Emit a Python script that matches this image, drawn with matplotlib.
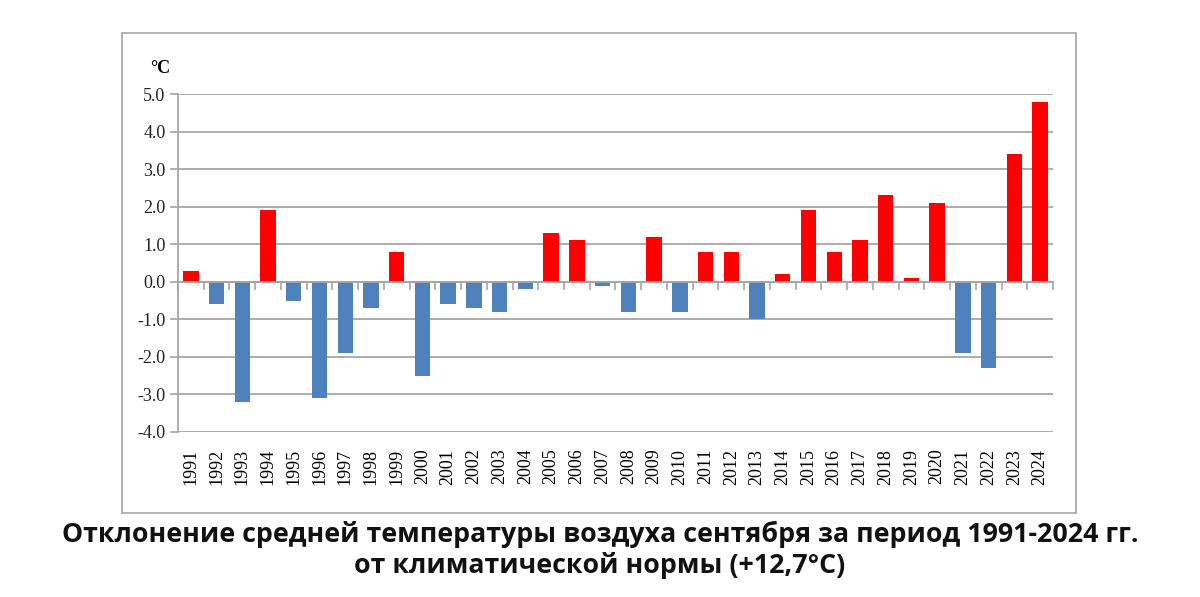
import numpy as np
import matplotlib
matplotlib.use("Agg")
import matplotlib.pyplot as plt
from matplotlib.patches import Rectangle

# data
years = list(range(1991, 2025))
anomaly = [0.3, -0.6, -3.2, 1.9, -0.5, -3.1, -1.9, -0.7, 0.8, -2.5,
           -0.6, -0.7, -0.8, -0.2, 1.3, 1.1, -0.1, -0.8, 1.2, -0.8,
           0.8, 0.8, -1.0, 0.2, 1.9, 0.8, 1.1, 2.3, 0.1, 2.1,
           -1.9, -2.3, 3.4, 4.8]
y_ticks = np.arange(-4.0, 5.01, 1.0)

title = ("Отклонение средней температуры воздуха сентября за период 1991-2024 гг.\n"
         "от климатической нормы (+12,7°C)")

RED = "#FF0000"
BLUE = "#4F81BD"
GRID = "#A6A6A6"
serif = ["Liberation Serif", "DejaVu Serif"]

fig = plt.figure(figsize=(12, 5.97), dpi=100, facecolor="white")

# outer chart frame
fig.patches.append(Rectangle((0.1017, 0.1407), 0.795, 0.804, transform=fig.transFigure,
                             fill=False, edgecolor="#A6A6A6", lw=1.2))

ax = fig.add_axes([0.1483, 0.2764, 0.7292, 0.5661])
x = np.arange(len(years))
colors = [RED if v >= 0 else BLUE for v in anomaly]
ax.bar(x, anomaly, width=0.6, color=colors, zorder=3)

ax.set_xlim(-0.5, len(years) - 0.5)
ax.set_ylim(-4.0, 5.0)
ax.set_yticks(y_ticks)
ax.set_yticklabels([f"{v:.1f}" for v in y_ticks], fontsize=13, family=serif)
ax.yaxis.grid(True, color=GRID, lw=1.3, zorder=0)

ax.set_xticks(x)
ax.set_xticklabels([str(y) for y in years], rotation=90, fontsize=13, family=serif)
ax.tick_params(axis="x", length=0, pad=12)
ax.tick_params(axis="y", length=6, color=GRID, width=1.2, pad=3, labelcolor="#222222")

for s in ["top", "right", "bottom"]:
    ax.spines[s].set_visible(False)
ax.spines["left"].set_color(GRID)
ax.spines["left"].set_linewidth(1.3)

# category axis drawn through zero with separator ticks
zero_frac = (0 - (-4.0)) / 9.0
sec = ax.secondary_xaxis(zero_frac)
sec.set_xticks(np.append(x + 0.5, -0.5))
sec.set_xticklabels([])
sec.tick_params(axis="x", length=6, direction="out", color=GRID, width=1.2, labelbottom=False)
sec.spines["bottom"].set_color(GRID)
sec.spines["bottom"].set_linewidth(1.3)
sec.set_zorder(4)

fig.text(0.125, 0.878, "°C", fontsize=13, fontweight="bold", family=serif)

fig.text(0.5, 0.128, title, ha="center", va="top", fontsize=19.3, fontweight="bold",
         family=["Open Sans", "DejaVu Sans"], linespacing=1.2, color="#111111")

fig.savefig("out.png", dpi=100, facecolor="white")
